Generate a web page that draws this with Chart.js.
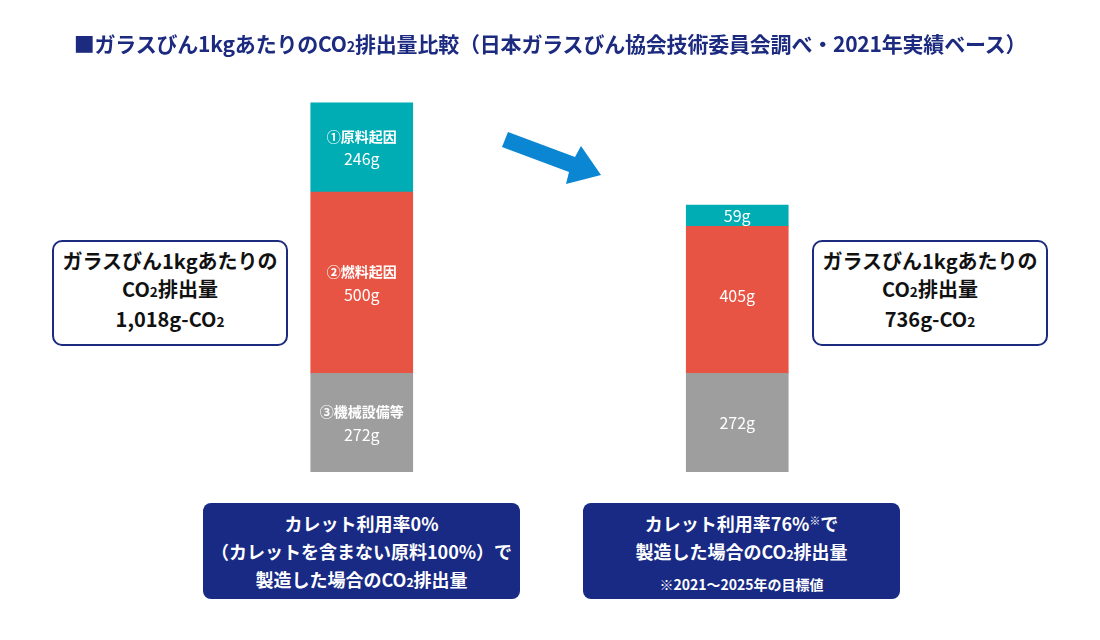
<!DOCTYPE html>
<html lang="ja">
<head>
  <meta charset="UTF-8" />
  <title>ガラスびん1kgあたりのCO2排出量比較</title>
  <script src="https://cdn.jsdelivr.net/npm/chart.js"></script>
  <style>
    body { margin: 0; background: #fff; font-family: "Noto Sans CJK JP", "Noto Sans", sans-serif; }
    .wrap { position: relative; width: 1100px; height: 640px; overflow: hidden; }
    #chart { position: absolute; left: 0; top: 0; }
    .title {
      position: absolute; left: 0; width: 1100px; top: 28px; text-align: center;
      font-size: 21px; font-weight: bold; color: #1c2a7f; letter-spacing: -0.2px;
    }
    .side {
      position: absolute; top: 240px; width: 232px; height: 97px;
      border: 2px solid #1c2a7f; border-radius: 10px; background: #fff;
      text-align: center; font-size: 20px; font-weight: bold; color: #111;
      line-height: 28px; padding-top: 5px; box-sizing: content-box;
    }
    .foot {
      position: absolute; top: 503px; width: 317px; height: 96px;
      background: #182a84; border-radius: 8px; color: #fff;
      text-align: center; font-size: 18px; font-weight: bold; line-height: 28px;
      padding-top: 6px; box-sizing: border-box; white-space: nowrap;
    }
    .sub { font-size: 0.68em; }
    .small { font-size: 14px; line-height: 22px; }
    sup { font-size: 0.6em; vertical-align: 0.6em; line-height: 0; }
    svg { position: absolute; left: 0; top: 0; }
  </style>
</head>
<body>
<div class="wrap">
  <canvas id="chart" width="1100" height="640"></canvas>
  <div class="title">■ガラスびん1kgあたりのCO<span class="sub">2</span>排出量比較（日本ガラスびん協会技術委員会調べ・2021年実績ベース）</div>

  <div class="side" style="left:52px;">ガラスびん1kgあたりの<br>CO<span class="sub">2</span>排出量<br>1,018g-CO<span class="sub">2</span></div>
  <div class="side" style="left:812px;">ガラスびん1kgあたりの<br>CO<span class="sub">2</span>排出量<br>736g-CO<span class="sub">2</span></div>

  <div class="foot" style="left:203px;">カレット利用率0%<br>（カレットを含まない原料100%）で<br>製造した場合のCO<span class="sub">2</span>排出量</div>
  <div class="foot" style="left:583px;">カレット利用率76%<sup>※</sup>で<br>製造した場合のCO<span class="sub">2</span>排出量<br><span class="small">※2021～2025年の目標値</span></div>

  <svg width="1100" height="640">
    <polygon points="508,132 575,157 581,146 601,175 566,184 569,172 502,147" fill="#0a86d2" />
  </svg>
</div>

<script>
  // two cases: cullet 0% and cullet 76%
  const cases = ["カレット利用率0%", "カレット利用率76%"];
  const machine = [272, 272];   // ③機械設備等
  const fuel = [500, 405];      // ②燃料起因
  const material = [246, 59];   // ①原料起因
  const segNames = ["③機械設備等", "②燃料起因", "①原料起因"];
  const segColors = ["#9e9e9e", "#e85443", "#00adb5"];

  // write labels in the middle of each segment
  const segLabels = {
    id: "segLabels",
    afterDatasetsDraw(chart) {
      const c = chart.ctx;
      c.save();
      c.fillStyle = "#fff";
      c.textAlign = "center";
      c.textBaseline = "middle";
      chart.data.datasets.forEach((ds, di) => {
        chart.getDatasetMeta(di).data.forEach((bar, i) => {
          const mid = (bar.y + bar.base) / 2;
          const val = ds.data[i] + "g";
          if (i === 0) {
            c.font = "bold 14px 'Noto Sans CJK JP'";
            c.fillText(segNames[di], bar.x, mid - 11);
            c.font = "16px 'Noto Sans CJK JP'";
            c.fillText(val, bar.x, mid + 12);
          } else {
            c.font = "16px 'Noto Sans CJK JP'";
            c.fillText(val, bar.x, di === 1 ? mid - 4 : mid);
          }
        });
      });
      c.restore();
    }
  };

  new Chart(document.getElementById("chart").getContext("2d"), {
    type: "bar",
    data: {
      labels: cases,
      datasets: [
        { label: segNames[0], data: machine, backgroundColor: segColors[0] },
        { label: segNames[1], data: fuel, backgroundColor: segColors[1] },
        { label: segNames[2], data: material, backgroundColor: segColors[2] }
      ]
    },
    options: {
      responsive: false,
      animation: false,
      devicePixelRatio: 1,
      barThickness: 102,
      layout: { padding: { left: 174, right: 175, top: 73, bottom: 168 } },
      scales: {
        x: { stacked: true, display: false, grid: { display: false } },
        y: { stacked: true, display: false, min: 0, max: 1100, grid: { display: false } }
      },
      plugins: { legend: { display: false }, tooltip: { enabled: false } }
    },
    plugins: [segLabels]
  });
</script>
</body>
</html>
